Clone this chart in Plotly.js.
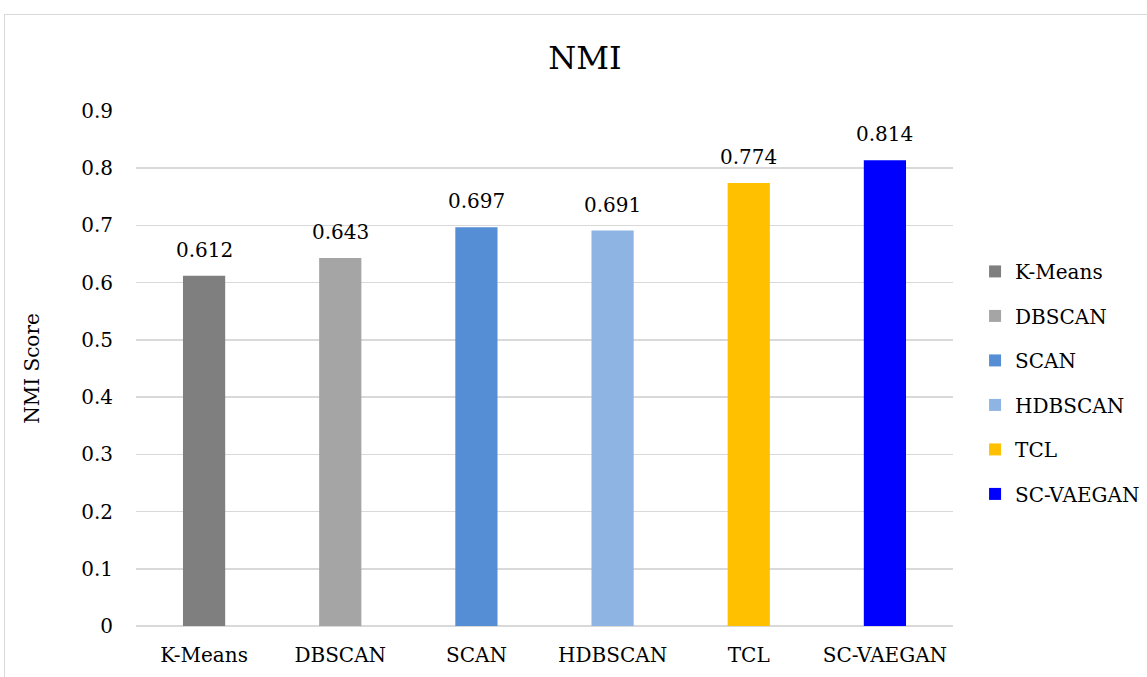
<!DOCTYPE html>
<html>
<head>
<meta charset="utf-8">
<script src="https://cdn.plot.ly/plotly-3.0.1.min.js"></script>
<style>
  html, body { margin: 0; padding: 0; background: #ffffff; overflow: hidden; }
  #wrap { position: relative; width: 1147px; height: 677px; }
  #chart { position: absolute; left: 0; top: 0; width: 1147px; height: 677px; }
  #frame { position: absolute; left: 4px; top: 14px; width: 1160px; height: 700px;
           border: 1.5px solid #d9d9d9; pointer-events: none; box-sizing: border-box; }
</style>
</head>
<body>
<div id="wrap">
  <div id="chart"></div>
  <div id="frame"></div>
</div>
<script>
const methods = ["K-Means", "DBSCAN", "SCAN", "HDBSCAN", "TCL", "SC-VAEGAN"];
const nmiScores = [0.612, 0.643, 0.697, 0.691, 0.774, 0.814];
const barColors = ["#7f7f7f", "#a5a5a5", "#558ed5", "#8eb4e3", "#ffc000", "#0000ff"];
const yTicks = [0, 0.1, 0.2, 0.3, 0.4, 0.5, 0.6, 0.7, 0.8, 0.9];

const FONT = "DejaVu Serif, Liberation Serif, serif";

const traces = methods.map((m, i) => ({
  type: "bar",
  name: m,
  x: [m],
  y: [nmiScores[i]],
  marker: { color: barColors[i] },
  legendgroup: m,
  hoverinfo: "x+y"
}));

const annotations = methods.map((m, i) => ({
  x: m,
  y: nmiScores[i],
  xref: "x",
  yref: "y",
  text: nmiScores[i].toFixed(3),
  showarrow: false,
  yanchor: "bottom",
  yshift: 12,
  font: { family: FONT, size: 20, color: "#000000" }
}));

const layout = {
  width: 1147,
  height: 677,
  paper_bgcolor: "#ffffff",
  plot_bgcolor: "#ffffff",
  margin: { l: 136, r: 194, t: 111, b: 51, autoexpand: false },
  barmode: "overlay",
  bargap: 0.69,
  title: {
    text: "NMI",
    font: { family: FONT, size: 32, color: "#000000" },
    x: 0.51,
    xanchor: "center",
    y: 0.914,
    yanchor: "middle"
  },
  xaxis: {
    categoryorder: "array",
    categoryarray: methods,
    tickfont: { family: FONT, size: 20, color: "#000000" },
    showline: false,
    ticks: "",
    ticklabelstandoff: 15
  },
  yaxis: {
    range: [0, 0.9],
    tickvals: yTicks,
    ticktext: yTicks.map(v => v === 0 ? "0" : v.toFixed(1)),
    tickfont: { family: FONT, size: 20, color: "#000000" },
    showgrid: true,
    gridcolor: "#d9d9d9",
    gridwidth: 1.5,
    zeroline: true,
    zerolinecolor: "#d9d9d9",
    zerolinewidth: 1.5,
    showline: false,
    ticks: "",
    ticklabelstandoff: 22,
    title: {
      text: "NMI Score",
      font: { family: FONT, size: 20, color: "#000000" },
      standoff: 36
    }
  },
  legend: {
    x: 1.027,
    xanchor: "left",
    y: 0.472,
    yanchor: "middle",
    font: { family: FONT, size: 20, color: "#000000" },
    tracegroupgap: 15.5,
    bgcolor: "rgba(0,0,0,0)"
  },
  annotations: annotations,
  showlegend: true
};

Plotly.newPlot("chart", traces, layout, { displayModeBar: false, staticPlot: true });
</script>
</body>
</html>
